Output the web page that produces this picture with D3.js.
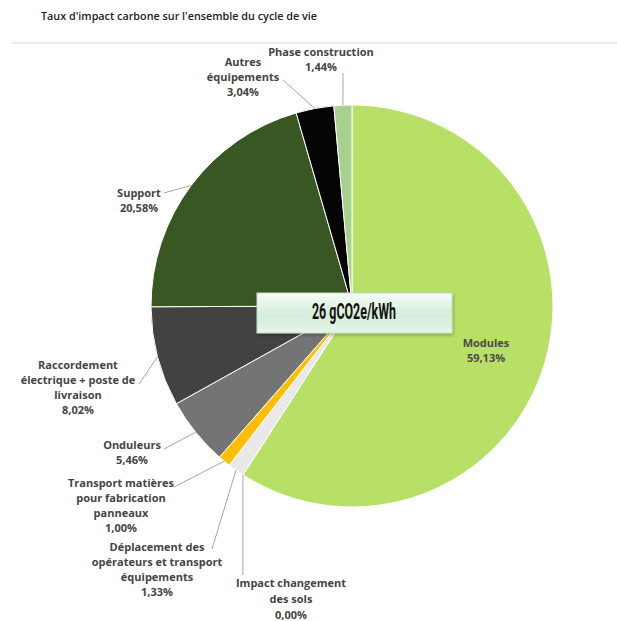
<!DOCTYPE html>
<html>
<head>
<meta charset="utf-8">
<script src="https://cdn.jsdelivr.net/npm/d3@7"></script>
<style>
  body { margin: 0; background: #fff; }
  svg { display: block; }
</style>
</head>
<body>
<div id="chart-container"></div>
<script>

// slice data, clockwise from 12 o'clock
const categories = [
    ["Modules"],
    ["Impact changement", "des sols"],
    ["Déplacement des", "opérateurs et transport", "équipements"],
    ["Transport matières", "pour fabrication", "panneaux"],
    ["Onduleurs"],
    ["Raccordement", "électrique + poste de", "livraison"],
    ["Support"],
    ["Autres", "équipements"],
    ["Phase construction"]
];
const values = [59.13, 0.00, 1.33, 1.00, 5.46, 8.02, 20.58, 3.04, 1.44];
const valueLabels = ["59,13%", "0,00%", "1,33%", "1,00%", "5,46%", "8,02%", "20,58%", "3,04%", "1,44%"];
const colors = ["#b8e066", "#f2f2f2", "#e9e9e9", "#ffbf00", "#747474", "#424242", "#385723", "#050505", "#a9d18e"];

const title = "Taux d'impact carbone sur l'ensemble du cycle de vie";
const centerText = "26 gCO2e/kWh";

const svgWidth = 617;
const svgHeight = 621;
const cx = 352, cy = 306, radius = 201;

const svg = d3.select("#chart-container")
    .append("svg")
    .attr("width", svgWidth)
    .attr("height", svgHeight)
    .style("font-family", "'Open Sans', 'DejaVu Sans', sans-serif");

svg.append("text")
    .attr("x", 41)
    .attr("y", 20)
    .attr("font-size", "10.8px")
    .attr("font-weight", 600)
    .attr("fill", "#222")
    .text(title);

svg.append("line")
    .attr("x1", 12).attr("x2", svgWidth)
    .attr("y1", 43).attr("y2", 43)
    .attr("stroke", "#ebebeb")
    .attr("stroke-width", 2);

const data = values.map((v, i) => ({ name: categories[i], value: v, label: valueLabels[i], color: colors[i] }));

const pie = d3.pie().sort(null).value(d => d.value);
const arcs = pie(data);

const arc = d3.arc().innerRadius(0).outerRadius(radius);
const edge = d3.arc().innerRadius(radius).outerRadius(radius);

const chart = svg.append("g")
    .attr("transform", `translate(${cx},${cy})`);

chart.selectAll("path.slice")
    .data(arcs)
    .join("path")
    .attr("class", "slice")
    .attr("d", arc)
    .attr("fill", d => d.data.color)
    .attr("stroke", "#fff")
    .attr("stroke-width", 1);

// label layout: text centre x, first baseline y, leader start point (page coords)
const labelLayout = [
    { x: 486, y: 347, inside: true },
    { x: 291, y: 587, lx: 243, ly: 575, lh: 16 },
    { x: 157, y: 551, lx: 212, ly: 549 },
    { x: 121, y: 487, lx: 174, ly: 487 },
    { x: 132, y: 449, lx: 164, ly: 449 },
    { x: 78, y: 369, lx: 139, ly: 384 },
    { x: 139, y: 197, lx: 164, ly: 193 },
    { x: 243, y: 66, lx: 283, ly: 80 },
    { x: 321, y: 56, lx: 343, ly: 73 }
];

const lineH = 15;

arcs.forEach(function(a, i) {
    const lay = labelLayout[i];
    if (!lay.inside) {
        const p = edge.centroid(a);
        const ex = cx + p[0], ey = cy + p[1];
        let pts = [[lay.lx, lay.ly], [ex, ey]];
        if (i === 1) pts = [[ex, lay.ly], [ex, ey]];
        svg.append("path")
            .attr("d", d3.line()(pts))
            .attr("fill", "none")
            .attr("stroke", "#a6a6a6")
            .attr("stroke-width", 1);
    }
    const t = svg.append("text")
        .attr("text-anchor", "middle")
        .attr("font-size", "11px")
        .attr("font-weight", "bold")
        .attr("fill", lay.inside ? "#4a4a4a" : "#444");
    a.data.name.concat([a.data.label]).forEach(function(line, j) {
        t.append("tspan")
            .attr("x", lay.x)
            .attr("y", lay.y + j * (lay.lh || lineH))
            .text(line);
    });
});

// centre value box
const defs = svg.append("defs");
const grad = defs.append("linearGradient")
    .attr("id", "boxGrad")
    .attr("x1", 0).attr("y1", 0).attr("x2", 0).attr("y2", 1);
grad.append("stop").attr("offset", "0%").attr("stop-color", "#f7fcf7");
grad.append("stop").attr("offset", "55%").attr("stop-color", "#d4eed8");
grad.append("stop").attr("offset", "100%").attr("stop-color", "#e6f5e8");

const filter = defs.append("filter").attr("id", "shadow").attr("x", "-10%").attr("y", "-20%").attr("width", "120%").attr("height", "150%");
filter.append("feDropShadow").attr("dx", 1).attr("dy", 2).attr("stdDeviation", 1.5).attr("flood-color", "#000").attr("flood-opacity", 0.25);

svg.append("rect")
    .attr("x", 257).attr("y", 293)
    .attr("width", 195).attr("height", 40)
    .attr("fill", "url(#boxGrad)")
    .attr("stroke", "#c8dcc8")
    .attr("stroke-width", 1)
    .attr("filter", "url(#shadow)");

svg.append("text")
    .attr("x", 354)
    .attr("y", 319)
    .attr("text-anchor", "middle")
    .attr("font-family", "'Roboto', 'DejaVu Sans', sans-serif")
    .attr("font-size", "22px")
    .attr("font-weight", "bold")
    .attr("fill", "#111")
    .attr("textLength", 84)
    .attr("lengthAdjust", "spacingAndGlyphs")
    .text(centerText);

</script>
</body>
</html>
